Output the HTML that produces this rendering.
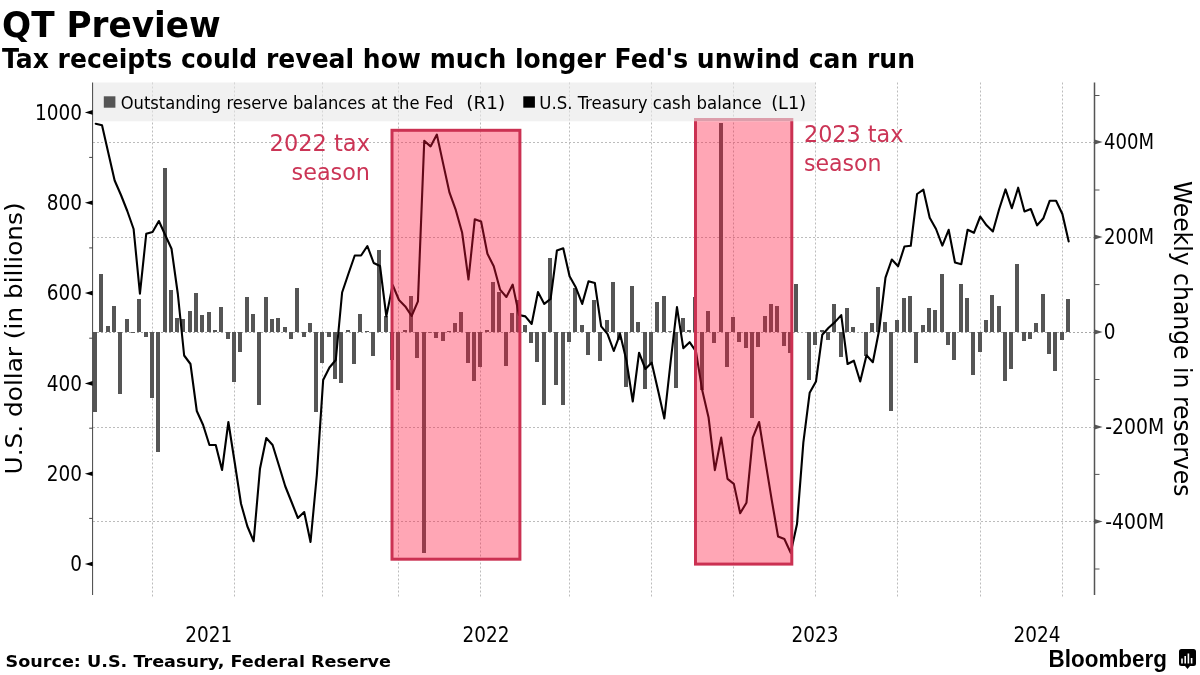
<!DOCTYPE html>
<html><head><meta charset="utf-8"><title>QT Preview</title>
<style>html,body{margin:0;padding:0;background:#fff}svg{display:block}</style></head>
<body>
<svg width="1200" height="675" viewBox="0 0 1200 675">
<rect width="1200" height="675" fill="#fff"/>
<g stroke="#bcbcbc" stroke-width="1" stroke-dasharray="2,2" fill="none">
<path d="M152.5 82.5V598.5"/>
<path d="M234.5 82.5V598.5"/>
<path d="M322.5 82.5V598.5"/>
<path d="M398.5 82.5V598.5"/>
<path d="M480.5 82.5V598.5"/>
<path d="M569.5 82.5V598.5"/>
<path d="M651.5 82.5V598.5"/>
<path d="M733.5 82.5V598.5"/>
<path d="M815.5 82.5V598.5"/>
<path d="M897.5 82.5V598.5"/>
<path d="M980.5 82.5V598.5"/>
<path d="M1062.5 82.5V598.5"/>
<path d="M93 142.5H1094.5"/>
<path d="M93 237.5H1094.5"/>
<path d="M93 427.5H1094.5"/>
<path d="M93 521.5H1094.5"/>
</g>
<path d="M93 332.5H1094.5" stroke="#a8a8a8" stroke-width="1" stroke-dasharray="2,2"/>
<g fill="#555">
<rect x="93" y="332" width="4" height="80"/>
<rect x="99" y="274" width="4" height="58"/>
<rect x="106" y="326" width="4" height="6"/>
<rect x="112" y="306" width="4" height="26"/>
<rect x="118" y="332" width="4" height="62"/>
<rect x="125" y="319" width="4" height="13"/>
<rect x="131" y="332" width="4" height="0.95"/>
<rect x="137" y="299" width="4" height="33"/>
<rect x="144" y="332" width="4" height="5"/>
<rect x="150" y="332" width="4" height="66"/>
<rect x="156" y="332" width="4" height="120"/>
<rect x="163" y="168" width="4" height="164"/>
<rect x="169" y="290" width="4" height="42"/>
<rect x="175" y="318" width="4" height="14"/>
<rect x="181" y="319" width="4" height="13"/>
<rect x="188" y="311" width="4" height="21"/>
<rect x="194" y="293" width="4" height="39"/>
<rect x="200" y="315" width="4" height="17"/>
<rect x="207" y="312" width="4" height="20"/>
<rect x="213" y="330" width="4" height="2"/>
<rect x="219" y="307" width="4" height="25"/>
<rect x="226" y="332" width="4" height="7"/>
<rect x="232" y="332" width="4" height="50"/>
<rect x="238" y="332" width="4" height="20"/>
<rect x="245" y="297" width="4" height="35"/>
<rect x="251" y="314" width="4" height="18"/>
<rect x="257" y="332" width="4" height="73"/>
<rect x="264" y="297" width="4" height="35"/>
<rect x="270" y="319" width="4" height="13"/>
<rect x="276" y="318" width="4" height="14"/>
<rect x="283" y="327" width="4" height="5"/>
<rect x="289" y="332" width="4" height="7"/>
<rect x="295" y="288" width="4" height="44"/>
<rect x="302" y="332" width="4" height="5"/>
<rect x="308" y="323" width="4" height="9"/>
<rect x="314" y="332" width="4" height="80"/>
<rect x="320" y="332" width="4" height="31"/>
<rect x="327" y="332" width="4" height="5"/>
<rect x="333" y="332" width="4" height="47"/>
<rect x="339" y="332" width="4" height="51"/>
<rect x="346" y="330" width="4" height="2"/>
<rect x="352" y="332" width="4" height="32"/>
<rect x="358" y="314" width="4" height="18"/>
<rect x="365" y="331" width="4" height="1"/>
<rect x="371" y="332" width="4" height="24"/>
<rect x="377" y="250" width="4" height="82"/>
<rect x="384" y="316" width="4" height="16"/>
<rect x="390" y="332" width="4" height="28"/>
<rect x="396" y="332" width="4" height="58"/>
<rect x="403" y="330" width="4" height="2"/>
<rect x="409" y="296" width="4" height="36"/>
<rect x="415" y="332" width="4" height="26"/>
<rect x="422" y="332" width="4" height="221"/>
<rect x="428" y="332" width="4" height="0.75"/>
<rect x="434" y="332" width="4" height="6"/>
<rect x="441" y="332" width="4" height="9"/>
<rect x="447" y="331" width="4" height="1"/>
<rect x="453" y="323" width="4" height="9"/>
<rect x="459" y="312" width="4" height="20"/>
<rect x="466" y="332" width="4" height="31"/>
<rect x="472" y="332" width="4" height="49"/>
<rect x="478" y="332" width="4" height="35"/>
<rect x="485" y="330" width="4" height="2"/>
<rect x="491" y="282" width="4" height="50"/>
<rect x="497" y="292" width="4" height="40"/>
<rect x="504" y="332" width="4" height="34"/>
<rect x="510" y="313" width="4" height="19"/>
<rect x="516" y="300" width="4" height="32"/>
<rect x="523" y="325" width="4" height="7"/>
<rect x="529" y="332" width="4" height="11"/>
<rect x="535" y="332" width="4" height="30"/>
<rect x="542" y="332" width="4" height="73"/>
<rect x="548" y="258" width="4" height="74"/>
<rect x="554" y="332" width="4" height="53"/>
<rect x="561" y="332" width="4" height="73"/>
<rect x="567" y="332" width="4" height="10"/>
<rect x="573" y="288" width="4" height="44"/>
<rect x="580" y="325" width="4" height="7"/>
<rect x="586" y="332" width="4" height="23"/>
<rect x="592" y="300" width="4" height="32"/>
<rect x="598" y="332" width="4" height="29"/>
<rect x="605" y="320" width="4" height="12"/>
<rect x="611" y="282" width="4" height="50"/>
<rect x="617" y="332" width="4" height="8"/>
<rect x="624" y="332" width="4" height="55"/>
<rect x="630" y="286" width="4" height="46"/>
<rect x="636" y="322" width="4" height="10"/>
<rect x="643" y="332" width="4" height="57"/>
<rect x="649" y="332" width="4" height="33"/>
<rect x="655" y="302" width="4" height="30"/>
<rect x="662" y="296" width="4" height="36"/>
<rect x="668" y="331.25" width="4" height="0.75"/>
<rect x="674" y="332" width="4" height="56"/>
<rect x="681" y="318" width="4" height="14"/>
<rect x="687" y="330" width="4" height="2"/>
<rect x="693" y="297" width="4" height="35"/>
<rect x="700" y="332" width="4" height="58"/>
<rect x="706" y="311" width="4" height="21"/>
<rect x="712" y="332" width="4" height="11"/>
<rect x="719" y="123" width="4" height="209"/>
<rect x="725" y="332" width="4" height="35"/>
<rect x="731" y="317" width="4" height="15"/>
<rect x="737" y="332" width="4" height="10"/>
<rect x="744" y="332" width="4" height="16"/>
<rect x="750" y="332" width="4" height="86"/>
<rect x="756" y="332" width="4" height="15"/>
<rect x="763" y="316" width="4" height="16"/>
<rect x="769" y="304" width="4" height="28"/>
<rect x="775" y="306" width="4" height="26"/>
<rect x="782" y="332" width="4" height="14"/>
<rect x="788" y="332" width="4" height="21"/>
<rect x="794" y="284" width="4" height="48"/>
<rect x="807" y="332" width="4" height="48"/>
<rect x="813" y="332" width="4" height="13"/>
<rect x="820" y="330" width="4" height="2"/>
<rect x="826" y="332" width="4" height="8"/>
<rect x="832" y="304" width="4" height="28"/>
<rect x="839" y="332" width="4" height="25"/>
<rect x="845" y="308" width="4" height="24"/>
<rect x="851" y="327" width="4" height="5"/>
<rect x="864" y="332" width="4" height="24"/>
<rect x="870" y="323" width="4" height="9"/>
<rect x="876" y="287" width="4" height="45"/>
<rect x="883" y="322" width="4" height="10"/>
<rect x="889" y="332" width="4" height="79"/>
<rect x="895" y="320" width="4" height="12"/>
<rect x="902" y="298" width="4" height="34"/>
<rect x="908" y="296" width="4" height="36"/>
<rect x="914" y="332" width="4" height="31"/>
<rect x="921" y="325" width="4" height="7"/>
<rect x="927" y="308" width="4" height="24"/>
<rect x="933" y="310" width="4" height="22"/>
<rect x="940" y="274" width="4" height="58"/>
<rect x="946" y="332" width="4" height="13"/>
<rect x="952" y="332" width="4" height="28"/>
<rect x="959" y="284" width="4" height="48"/>
<rect x="965" y="298" width="4" height="34"/>
<rect x="971" y="332" width="4" height="43"/>
<rect x="978" y="332" width="4" height="20"/>
<rect x="984" y="320" width="4" height="12"/>
<rect x="990" y="295" width="4" height="37"/>
<rect x="997" y="306" width="4" height="26"/>
<rect x="1003" y="332" width="4" height="49"/>
<rect x="1009" y="332" width="4" height="37"/>
<rect x="1015" y="264" width="4" height="68"/>
<rect x="1022" y="332" width="4" height="9"/>
<rect x="1028" y="332" width="4" height="7"/>
<rect x="1034" y="323" width="4" height="9"/>
<rect x="1041" y="294" width="4" height="38"/>
<rect x="1047" y="332" width="4" height="22"/>
<rect x="1053" y="332" width="4" height="39"/>
<rect x="1060" y="332" width="4" height="8"/>
<rect x="1066" y="299" width="4" height="33"/>
</g>
<polyline points="95.70,123.70 102.02,125.30 108.34,152.90 114.65,180.50 120.97,195.00 127.29,211.00 133.61,229.00 139.93,293.75 146.25,233.75 152.56,232.00 158.88,221.00 165.20,235.00 171.52,248.75 177.84,294.00 184.15,355.50 190.47,364.00 196.79,411.00 203.11,425.00 209.43,445.00 215.75,445.00 222.06,470.00 228.38,422.00 234.70,462.50 241.02,503.75 247.34,526.25 253.66,541.25 259.97,468.75 266.29,438.00 272.61,445.00 278.93,465.50 285.25,486.25 291.56,502.00 297.88,518.00 304.20,512.00 310.52,542.00 316.84,475.00 323.16,380.00 329.47,367.50 335.79,360.00 342.11,292.50 348.43,273.75 354.75,255.50 361.06,255.50 367.38,246.00 373.70,263.00 380.02,266.00 386.34,316.40 392.66,285.00 398.97,300.00 405.29,306.40 411.61,316.00 417.93,301.40 424.25,140.90 430.56,146.40 436.88,134.60 443.20,163.90 449.52,192.70 455.84,210.20 462.16,232.80 468.47,279.50 474.79,219.20 481.11,221.50 487.43,253.80 493.75,266.30 500.06,289.60 506.38,297.00 512.70,284.60 519.02,315.00 525.34,316.40 531.66,324.00 537.97,292.00 544.29,303.90 550.61,298.90 556.93,250.50 563.25,248.30 569.57,276.30 575.88,287.60 582.20,303.90 588.52,281.30 594.84,283.00 601.16,326.40 607.47,333.90 613.79,351.00 620.11,333.90 626.43,360.50 632.75,401.50 639.07,352.70 645.38,369.00 651.70,362.70 658.02,390.30 664.34,418.50 670.66,361.50 676.97,307.10 683.29,348.20 689.61,342.20 695.93,351.40 702.25,390.30 708.57,417.50 714.88,470.10 721.20,437.60 727.52,478.90 733.84,483.90 740.16,513.20 746.47,502.70 752.79,437.60 759.11,422.00 765.43,461.40 771.75,500.20 778.07,536.50 784.38,539.00 790.70,552.80 797.02,524.00 803.34,442.60 809.66,392.80 815.97,381.50 822.29,334.70 828.61,327.70 834.93,322.10 841.25,315.10 847.57,364.00 853.88,360.70 860.20,381.50 866.52,355.20 872.84,362.20 879.16,330.00 885.48,277.60 891.79,259.50 898.11,266.30 904.43,246.50 910.75,245.80 917.07,194.00 923.38,189.70 929.70,217.70 936.02,229.00 942.34,245.60 948.66,229.80 954.98,262.50 961.29,264.30 967.61,229.80 973.93,232.80 980.25,216.50 986.57,225.30 992.88,231.50 999.20,209.00 1005.52,189.40 1011.84,208.20 1018.16,187.70 1024.48,211.50 1030.79,209.00 1037.11,225.30 1043.43,218.20 1049.75,200.70 1056.07,200.70 1062.38,214.00 1068.70,241.50" fill="none" stroke="#000" stroke-width="2.1" stroke-linejoin="round" stroke-linecap="round"/>
<rect x="392" y="130.3" width="127.9" height="428.9" fill="rgba(255,20,60,0.38)" stroke="#cb3152" stroke-width="3"/>
<rect x="695.5" y="119.5" width="96.3" height="444.6" fill="rgba(255,20,60,0.38)" stroke="#cb3152" stroke-width="3"/>
<rect x="93" y="82.5" width="722.5" height="38.8" fill="#e7e7e7" fill-opacity="0.6"/>
<rect x="103.8" y="96.3" width="11.6" height="11.4" fill="#555"/>
<text x="120.7" y="108.5" font-family='"DejaVu Sans Condensed","Liberation Sans","Noto Sans CJK SC",sans-serif' font-size="18.3" fill="#000"><tspan textLength="332.8" lengthAdjust="spacingAndGlyphs">Outstanding reserve balances at the Fed</tspan><tspan x="466.2" textLength="39" lengthAdjust="spacingAndGlyphs">(R1)</tspan></text>
<rect x="523.3" y="96.3" width="11.6" height="11.4" fill="#000"/>
<text x="539.3" y="108.5" font-family='"DejaVu Sans Condensed","Liberation Sans","Noto Sans CJK SC",sans-serif' font-size="18.3" fill="#000"><tspan textLength="222.4" lengthAdjust="spacingAndGlyphs">U.S. Treasury cash balance</tspan><tspan x="771.2" textLength="35" lengthAdjust="spacingAndGlyphs">(L1)</tspan></text>
<g font-family='"DejaVu Sans Condensed","Liberation Sans","Noto Sans CJK SC",sans-serif' font-size="23.6" fill="#cb3556">
<text x="269.6" y="151.4" textLength="100.4" lengthAdjust="spacingAndGlyphs">2022 tax</text>
<text x="291.6" y="180.2" textLength="78.4" lengthAdjust="spacingAndGlyphs">season</text>
<text x="804" y="142" textLength="99.4" lengthAdjust="spacingAndGlyphs">2023 tax</text>
<text x="804" y="171.4" textLength="77.6" lengthAdjust="spacingAndGlyphs">season</text>
</g>
<path d="M92.6 82.5V595" stroke="#444" stroke-width="1"/>
<path d="M1094.5 82.5V595" stroke="#555" stroke-width="1.5"/>
<g font-family='"DejaVu Sans Condensed","Liberation Sans","Noto Sans CJK SC",sans-serif' font-size="20.5" fill="#000">
<text x="82" y="119.60000000000001" text-anchor="end">1000</text>
<path d="M92.6 110.10000000000001L84.8 112.4L92.6 114.7Z" fill="#000"/>
<text x="82" y="210.0" text-anchor="end">800</text>
<path d="M92.6 200.5L84.8 202.8L92.6 205.10000000000002Z" fill="#000"/>
<text x="82" y="300.3" text-anchor="end">600</text>
<path d="M92.6 290.8L84.8 293.1L92.6 295.40000000000003Z" fill="#000"/>
<text x="82" y="390.59999999999997" text-anchor="end">400</text>
<path d="M92.6 381.09999999999997L84.8 383.4L92.6 385.7Z" fill="#000"/>
<text x="82" y="480.9" text-anchor="end">200</text>
<path d="M92.6 471.4L84.8 473.7L92.6 476.0Z" fill="#000"/>
<text x="82" y="571.2" text-anchor="end">0</text>
<path d="M92.6 561.7L84.8 564L92.6 566.3Z" fill="#000"/>
<path d="M89.2 157.4H92.6" stroke="#444" stroke-width="1"/>
<path d="M89.2 247.9H92.6" stroke="#444" stroke-width="1"/>
<path d="M89.2 338.2H92.6" stroke="#444" stroke-width="1"/>
<path d="M89.2 428.2H92.6" stroke="#444" stroke-width="1"/>
<path d="M89.2 518.4H92.6" stroke="#444" stroke-width="1"/>
<text x="1104" y="149.2" textLength="50" lengthAdjust="spacingAndGlyphs">400M</text>
<path d="M1094.5 139.6L1102.6 142L1094.5 144.4Z" fill="#555"/>
<text x="1104" y="244.2" textLength="50" lengthAdjust="spacingAndGlyphs">200M</text>
<path d="M1094.5 234.6L1102.6 237L1094.5 239.4Z" fill="#555"/>
<text x="1103.8" y="339.2">0</text>
<path d="M1094.5 329.6L1102.6 332L1094.5 334.4Z" fill="#555"/>
<text x="1105.3" y="434.2" textLength="58.8" lengthAdjust="spacingAndGlyphs">-200M</text>
<path d="M1094.5 424.6L1102.6 427L1094.5 429.4Z" fill="#555"/>
<text x="1105.3" y="528.7" textLength="58.8" lengthAdjust="spacingAndGlyphs">-400M</text>
<path d="M1094.5 519.1L1102.6 521.5L1094.5 523.9Z" fill="#555"/>
<path d="M1094.5 95.5H1099.5" stroke="#555" stroke-width="1"/>
<path d="M1094.5 190H1099.5" stroke="#555" stroke-width="1"/>
<path d="M1094.5 284.6H1099.5" stroke="#555" stroke-width="1"/>
<path d="M1094.5 379.5H1099.5" stroke="#555" stroke-width="1"/>
<path d="M1094.5 474.4H1099.5" stroke="#555" stroke-width="1"/>
<path d="M1094.5 569H1099.5" stroke="#555" stroke-width="1"/>
<text x="208.7" y="641.7" text-anchor="middle">2021</text>
<text x="486" y="641.7" text-anchor="middle">2022</text>
<text x="815" y="641.7" text-anchor="middle">2023</text>
<text x="1037" y="641.7" text-anchor="middle">2024</text>
</g>
<text transform="translate(22.3 474.4) rotate(-90)" font-family='"DejaVu Sans Condensed","Liberation Sans","Noto Sans CJK SC",sans-serif' font-size="23.8" textLength="272" lengthAdjust="spacingAndGlyphs" fill="#000">U.S. dollar (in billions)</text>
<text transform="translate(1174.3 181) rotate(90)" font-family='"DejaVu Sans Condensed","Liberation Sans","Noto Sans CJK SC",sans-serif' font-size="24.5" textLength="315.4" lengthAdjust="spacingAndGlyphs" fill="#000">Weekly change in reserves</text>
<text x="2" y="37" font-family='"DejaVu Sans","Liberation Sans",sans-serif' font-weight="bold" font-size="35.6" textLength="218.8" lengthAdjust="spacingAndGlyphs" fill="#000">QT Preview</text>
<text x="2" y="68" font-family='"DejaVu Sans","Liberation Sans",sans-serif' font-weight="bold" font-size="26" textLength="913" lengthAdjust="spacingAndGlyphs" fill="#000">Tax receipts could reveal how much longer Fed's unwind can run</text>
<text x="5.5" y="667" font-family='"DejaVu Sans","Liberation Sans",sans-serif' font-weight="bold" font-size="16.4" textLength="385.5" lengthAdjust="spacingAndGlyphs" fill="#000">Source: U.S. Treasury, Federal Reserve</text>
<text x="1048.6" y="666.7" font-family='"Liberation Sans",sans-serif' font-weight="bold" font-size="23.4" textLength="118.3" lengthAdjust="spacingAndGlyphs" fill="#000">Bloomberg</text>
<g><path d="M1181.5 649h12a2.5 2.5 0 0 1 2.5 2.5v12a2.5 2.5 0 0 1-2.5 2.5h-3.5l-2.5 3l-2.5-3h-3.5a2.5 2.5 0 0 1-2.5-2.5v-12a2.5 2.5 0 0 1 2.5-2.5z" fill="#000"/>
<path d="M1182 658.5v5M1185.2 656v7.5M1188.4 653.5v10M1191.6 658v5.5" stroke="#fff" stroke-width="1.6"/></g>
</svg>
</body></html>
